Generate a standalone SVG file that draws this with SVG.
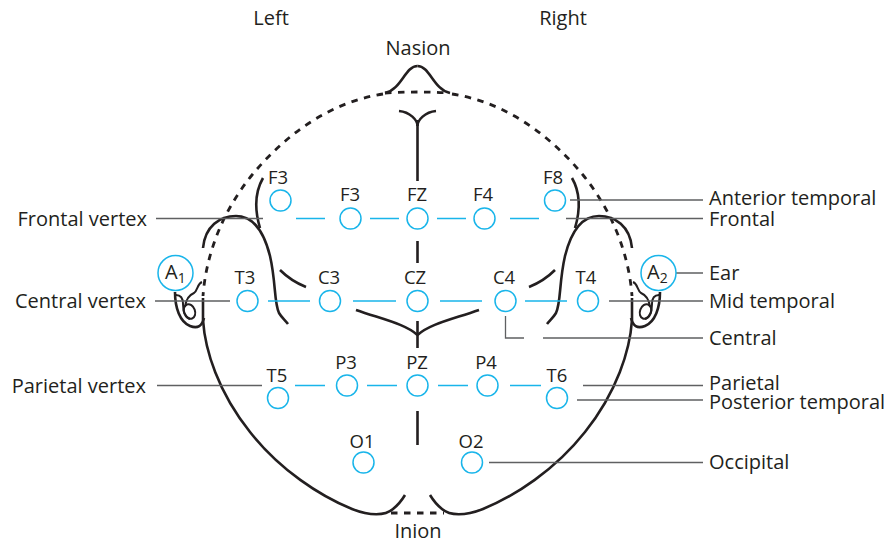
<svg xmlns="http://www.w3.org/2000/svg" width="891" height="543" viewBox="0 0 891 543">
<style>
text{font-family:"Open Sans","Noto Sans","Liberation Sans",sans-serif;font-size:20px;fill:#231f20}
.n text{font-size:18.500px}
.m{text-anchor:middle}
.e{text-anchor:end}
.n circle{fill:none;stroke:#19b5ea;stroke-width:1.5}
.b{fill:none;stroke:#19b5ea;stroke-width:1.3}
.g{fill:none;stroke:#5f6062;stroke-width:1.3}
.k{fill:none;stroke:#231f20;stroke-width:2.6}
.f{fill:none;stroke:#231f20;stroke-width:2}
.d{fill:none;stroke:#231f20;stroke-width:2.8;stroke-dasharray:6.500 6.500}
</style>
<defs>
<g id="earhalf">
<path class="k" d="M203 248C205 226 220 216 236 216C256 216 265 236 270 256C276 282 274 303 279 313C282 318 285 320 288 324"/>
<path class="k" d="M263 178C255 192 254 208 260 228"/>
<path class="k" d="M280 270C288 278 296 283 306 287"/>
<path class="k" d="M175 292C175 308 180 322 190 326C198 329 202 326 204 318"/>
<path class="f" d="M176 295C181 295 183 298 183 304C183 312 185 317 190 319"/>
<ellipse class="f" cx="189.500" cy="311.500" rx="5.500" ry="7.500" transform="rotate(-20 189.500 311.500)"/>
<path class="f" d="M202 282C197 284 198 290 194 293C189 295 186 299 185 307"/>
<path class="k" d="M203 298V320C205 350 218 392 250 432C280 470 320 496 352 509C370 516 385 516 393 509C398 505 402 500 405 495" stroke-linejoin="round"/>
<path class="d" d="M383 94C330 102 285 135 252 175C222 212 206 255 203 296"/>
<path class="k" d="M385 93C402 89 405 66 417.500 66"/>
<path class="k" d="M399 111C410 112 417.500 120 417.500 126"/>
<path class="k" d="M356 310C385 320 405 324 417.500 335"/>
</g>
</defs>
<g id="connectors">
<use href="#earhalf"/>
<use href="#earhalf" transform="matrix(-1 0 0 1 835 0)"/>
<path class="d" d="M385 93Q417.500 91 450 93"/>
<path class="d" d="M391 513H444" stroke-dasharray="7 6"/>
<path class="k" d="M417.500 120V181M417.500 241V263M417.500 321V348M417.500 411V445"/>
<path class="b" d="M296 218.500H325M370 218.500H399M437 218.500H466M510 218.500H539M268 301H310M353 301H396M440 301H482M525 301H567M295 385.500H325M367 385.500H397M438 385.500H468M510 385.500H541"/>
<path class="g" d="M156 218.500H263M155 301H230M157 385.500H262M570 200H703M566 218.500H703M676 273H703M609 301H703M505.500 316V338H524M543 338H703M583 385.500H703M577 400H703M489 462.500H703"/>
</g>
<g id="nodes" class="n">
<g id="F3a"><circle cx="280.500" cy="200.500" r="10.500"/><text class="m" x="278" y="184">F3</text></g>
<g id="F3b"><circle cx="350.500" cy="218.500" r="10.500"/><text class="m" x="350" y="201">F3</text></g>
<g id="FZ"><circle cx="417.500" cy="218.500" r="10.500"/><text class="m" x="417" y="201">FZ</text></g>
<g id="F4"><circle cx="484.500" cy="218.500" r="10.500"/><text class="m" x="483" y="201">F4</text></g>
<g id="F8"><circle cx="555" cy="200.500" r="10.500"/><text class="m" x="553" y="184">F8</text></g>
<g id="T3"><circle cx="247.500" cy="301" r="10.500"/><text class="m" x="245" y="284">T3</text></g>
<g id="C3"><circle cx="330" cy="301" r="10.500"/><text class="m" x="329" y="284">C3</text></g>
<g id="CZ"><circle cx="417.500" cy="301" r="10.500"/><text class="m" x="415" y="284">CZ</text></g>
<g id="C4"><circle cx="505.500" cy="301" r="10.500"/><text class="m" x="504" y="284">C4</text></g>
<g id="T4"><circle cx="588" cy="301" r="10.500"/><text class="m" x="586" y="284">T4</text></g>
<g id="T5"><circle cx="278" cy="398" r="10.500"/><text class="m" x="277" y="382">T5</text></g>
<g id="P3"><circle cx="347" cy="385.500" r="10.500"/><text class="m" x="346" y="369">P3</text></g>
<g id="PZ"><circle cx="417.500" cy="385.500" r="10.500"/><text class="m" x="417" y="369">PZ</text></g>
<g id="P4"><circle cx="487.500" cy="385.500" r="10.500"/><text class="m" x="486" y="369">P4</text></g>
<g id="T6"><circle cx="557" cy="398" r="10.500"/><text class="m" x="557" y="382">T6</text></g>
<g id="O1"><circle cx="363.500" cy="462.500" r="10.500"/><text class="m" x="362" y="448">O1</text></g>
<g id="O2"><circle cx="472" cy="462.500" r="10.500"/><text class="m" x="471" y="448">O2</text></g>
<g id="A1"><circle cx="175.500" cy="273" r="17.500"/><text x="165" y="279" style="font-size:20px">A<tspan font-size="14" dy="4">1</tspan></text></g>
<g id="A2"><circle cx="658.500" cy="273" r="17.500"/><text x="647" y="279" style="font-size:20px">A<tspan font-size="14" dy="4">2</tspan></text></g>
</g>
<g id="labels">
<text class="m" x="271" y="25">Left</text>
<text class="m" x="563" y="25">Right</text>
<text class="m" x="418" y="55">Nasion</text>
<text class="m" x="418" y="537.500">Inion</text>
<text class="e" x="147" y="226">Frontal vertex</text>
<text class="e" x="146" y="308">Central vertex</text>
<text class="e" x="146" y="393">Parietal vertex</text>
<text x="709" y="205">Anterior temporal</text>
<text x="709" y="226">Frontal</text>
<text x="709" y="280">Ear</text>
<text x="709" y="308">Mid temporal</text>
<text x="709" y="345">Central</text>
<text x="709" y="390">Parietal</text>
<text x="709" y="409">Posterior temporal</text>
<text x="709" y="469">Occipital</text>
</g>
</svg>
